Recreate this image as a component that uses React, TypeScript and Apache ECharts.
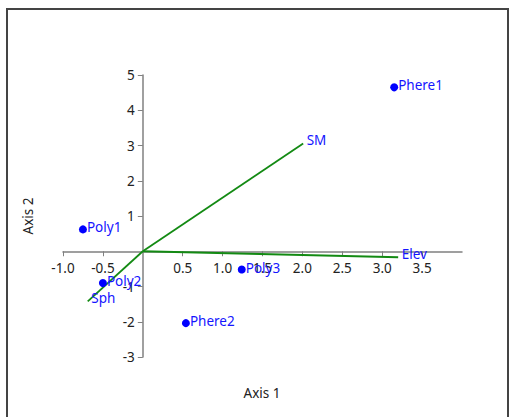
import React, { useEffect, useRef } from "react";
import * as echarts from "echarts";

const siteNames = ["Phere1", "Poly1", "Poly3", "Poly2", "Phere2"];
const siteX = [3.15, -0.75, 1.24, -0.5, 0.54];
const siteY = [4.65, 0.62, -0.52, -0.9, -2.04];

const varNames = ["SM", "Elev", "Sph"];
const varX = [2.01, 3.2, -0.69];
const varY = [3.06, -0.17, -1.42];

const xMin = -1;
const xMax = 4;
const yMin = -3;
const yMax = 5;
const xTicks = [-1.0, -0.5, 0.5, 1.0, 1.5, 2.0, 2.5, 3.0, 3.5];
const yTicks = [-3, -2, -1, 1, 2, 3, 4, 5];

const xTitle = "Axis 1";
const yTitle = "Axis 2";

const FONT = "Noto Sans";
const FS = 13.5;
const BLUE = "#0000ff";
const LABEL_BLUE = "#1515ff";
const GREEN = "#138a13";
const AXIS_GRAY = "#808080";

const W = 509;
const H = 417;
const GRID = { left: 63, right: 47, top: 75, bottom: 60 };

export default function App() {
  const ref = useRef<HTMLDivElement>(null);
  useEffect(() => {
    if (!ref.current) return;
    const chart = echarts.init(ref.current, null, { renderer: "svg" });
    const gw = W - GRID.left - GRID.right;
    const gh = H - GRID.top - GRID.bottom;
    // place axes through the origin (0,0)
    const xAxisOffset = -((0 - yMin) / (yMax - yMin)) * gh;
    const yAxisOffset = -((0 - xMin) / (xMax - xMin)) * gw;
    const vectorSeries = varNames.map((n, i) => ({
      type: "line",
      name: n,
      data: [
        [0, 0],
        [varX[i], varY[i]],
      ],
      symbol: "none",
      lineStyle: { color: GREEN, width: 1.8 },
      silent: true,
      z: 2,
    }));
    chart.setOption({
      animation: false,
      textStyle: { fontFamily: FONT },
      grid: GRID,
      xAxis: {
        type: "value",
        min: xMin,
        max: xMax,
        interval: 0.5,
        position: "bottom",
        offset: xAxisOffset,
        splitLine: { show: false },
        axisLine: { onZero: false, lineStyle: { color: AXIS_GRAY, width: 1.5 } },
        axisTick: {
          show: true,
          length: 5,
          lineStyle: { color: AXIS_GRAY },
          customValues: xTicks,
        },
        axisLabel: {
          customValues: xTicks,
          formatter: (v: number) => v.toFixed(1),
          color: "#222",
          fontSize: FS,
          fontFamily: FONT,
          margin: 10,
        },
      },
      yAxis: {
        type: "value",
        min: yMin,
        max: yMax,
        interval: 1,
        position: "left",
        offset: yAxisOffset,
        splitLine: { show: false },
        axisLine: { onZero: false, lineStyle: { color: AXIS_GRAY, width: 1.5 } },
        axisTick: {
          show: true,
          length: 5,
          lineStyle: { color: AXIS_GRAY },
          customValues: yTicks,
        },
        axisLabel: {
          customValues: yTicks,
          color: "#222",
          fontSize: FS,
          fontFamily: FONT,
          margin: 8,
        },
      },
      graphic: [
        {
          type: "rect",
          shape: { x: 7, y: 9, width: 501, height: 430 },
          style: { fill: "none", stroke: "#444", lineWidth: 2 },
          silent: true,
        },
        {
          type: "text",
          x: 262,
          y: 393,
          style: {
            text: xTitle,
            fill: "#222",
            font: `${FS}px "${FONT}"`,
            align: "center",
            verticalAlign: "middle",
          },
        },
        {
          type: "text",
          x: 28,
          y: 216,
          rotation: Math.PI / 2,
          style: {
            text: yTitle,
            fill: "#222",
            font: `${FS}px "${FONT}"`,
            align: "center",
            verticalAlign: "middle",
          },
        },
      ],
      series: [
        ...vectorSeries,
        {
          type: "scatter",
          name: "vectorLabels",
          data: varNames.map((n, i) => ({ name: n, value: [varX[i], varY[i]] })),
          symbolSize: 1,
          itemStyle: { color: "transparent", opacity: 1 },
          label: {
            show: true,
            position: "right",
            distance: 3,
            offset: [0, -3],
            formatter: (p: any) => p.name,
            color: LABEL_BLUE,
            opacity: 1,
            fontSize: FS,
            fontFamily: FONT,
          },
          silent: true,
          z: 4,
        },
        {
          type: "scatter",
          name: "sites",
          data: siteNames.map((n, i) => ({ name: n, value: [siteX[i], siteY[i]] })),
          symbol: "circle",
          symbolSize: 8,
          itemStyle: { color: BLUE, opacity: 1 },
          label: {
            show: true,
            position: "right",
            distance: 0,
            offset: [0, -2],
            formatter: (p: any) => p.name,
            color: LABEL_BLUE,
            fontSize: FS,
            fontFamily: FONT,
          },
          z: 3,
        },
      ],
    });
    return () => chart.dispose();
  }, []);
  return (
    <div
      ref={ref}
      style={{ position: "absolute", left: 0, top: 0, width: W, height: H }}
    />
  );
}
